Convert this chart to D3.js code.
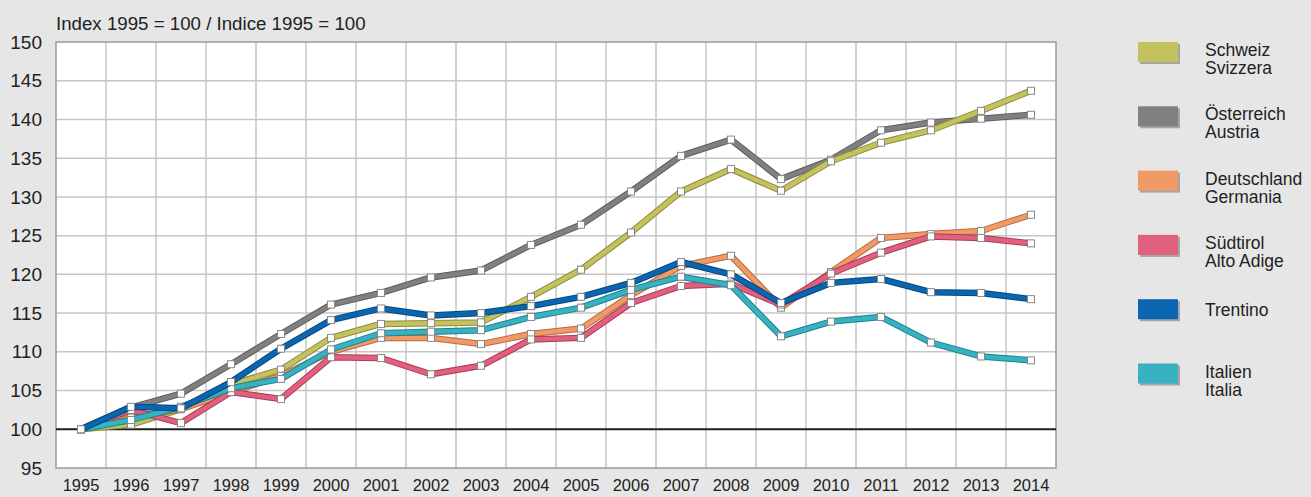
<!DOCTYPE html>
<html>
<head>
<meta charset="utf-8">
<script src="https://cdn.jsdelivr.net/npm/d3@7"></script>
<style>
  body { margin: 0; background: #e6e6e6; }
  svg { display: block; font-family: "Liberation Sans", Arial, sans-serif; }
</style>
</head>
<body>
<svg id="chart"></svg>
<script>
const years = [1995, 1996, 1997, 1998, 1999, 2000, 2001, 2002, 2003, 2004,
               2005, 2006, 2007, 2008, 2009, 2010, 2011, 2012, 2013, 2014];
const yTicks = [95, 100, 105, 110, 115, 120, 125, 130, 135, 140, 145, 150];

const schweiz     = [100, 100.6, 102.6, 105.8, 107.7, 111.8, 113.6, 113.7, 113.8, 117.1, 120.6, 125.4, 130.7, 133.6, 130.8, 134.6, 137.0, 138.6, 141.1, 143.7];
const oesterreich = [100, 102.8, 104.6, 108.4, 112.3, 116.1, 117.6, 119.6, 120.5, 123.8, 126.4, 130.7, 135.3, 137.4, 132.3, 134.8, 138.6, 139.6, 140.1, 140.6];
const deutschland = [100, 101.5, 102.6, 104.8, 106.9, 110.0, 111.8, 111.8, 111.0, 112.3, 113.0, 117.3, 121.1, 122.4, 115.7, 120.3, 124.7, 125.2, 125.6, 127.7];
const suedtirol   = [100, 102.5, 100.8, 104.8, 103.9, 109.3, 109.2, 107.1, 108.2, 111.6, 111.8, 116.3, 118.5, 118.8, 116.1, 120.1, 122.8, 124.9, 124.7, 124.0];
const trentino    = [100, 102.9, 102.7, 106.1, 110.4, 114.1, 115.6, 114.7, 115.0, 115.9, 117.1, 118.9, 121.6, 120.0, 116.3, 118.9, 119.4, 117.7, 117.6, 116.8];
const italien     = [100, 101.2, 102.9, 105.3, 106.5, 110.3, 112.4, 112.6, 112.8, 114.5, 115.7, 118.0, 119.7, 118.6, 112.0, 113.9, 114.5, 111.2, 109.4, 108.9];

const legendLabels = [
    ["Schweiz", "Svizzera"],
    ["Österreich", "Austria"],
    ["Deutschland", "Germania"],
    ["Südtirol", "Alto Adige"],
    ["Trentino"],
    ["Italien", "Italia"]
];

// legend order, with colours
const series = [
    {values: schweiz,     color: "#c4c25e", edge: "#8e8c3c"},
    {values: oesterreich, color: "#808080", edge: "#5e5e5e"},
    {values: deutschland, color: "#f09a66", edge: "#b86a40"},
    {values: suedtirol,   color: "#e0607e", edge: "#a83c58"},
    {values: trentino,    color: "#0a66b0", edge: "#07487c"},
    {values: italien,     color: "#36b2c2", edge: "#22808c"}
];
// drawing order (last on top)
const drawOrder = [1, 0, 2, 3, 5, 4];

const W = 1311, H = 497;
const svg = d3.select("#chart").attr("width", W).attr("height", H);

const x = d3.scaleBand().domain(years).range([56, 1056]);
const y = d3.scaleLinear().domain([95, 150]).range([468, 42]);
const cx = d => x(d) + x.bandwidth() / 2;

// plot background
svg.append("rect")
    .attr("x", 56).attr("y", 42)
    .attr("width", 1000).attr("height", 426)
    .attr("fill", "#ffffff");

// grid
svg.append("g").selectAll("line.v")
    .data(years.slice(1))
    .join("line")
    .attr("x1", d => x(d)).attr("x2", d => x(d))
    .attr("y1", 42).attr("y2", 468)
    .attr("stroke", "#c6c6c6").attr("stroke-width", 1.5);

svg.append("g").selectAll("line.h")
    .data(yTicks.filter(t => t > 95 && t < 150))
    .join("line")
    .attr("x1", 56).attr("x2", 1056)
    .attr("y1", d => y(d)).attr("y2", d => y(d))
    .attr("stroke", "#c6c6c6").attr("stroke-width", 1.5);

svg.append("rect")
    .attr("x", 56).attr("y", 42)
    .attr("width", 1000).attr("height", 426)
    .attr("fill", "none").attr("stroke", "#9a9a9a").attr("stroke-width", 1.5);

// base line at 100
svg.append("line")
    .attr("x1", 56).attr("x2", 1056)
    .attr("y1", y(100)).attr("y2", y(100))
    .attr("stroke", "#222").attr("stroke-width", 2);

// axes
const yAxis = svg.append("g")
    .attr("transform", "translate(42,0)")
    .call(d3.axisLeft(y).tickValues(yTicks).tickSize(0).tickPadding(0));
yAxis.select(".domain").remove();
yAxis.selectAll("text")
    .attr("font-size", 19).attr("fill", "#222")
    .attr("font-family", "Liberation Sans, Arial, sans-serif");

const xAxis = svg.append("g")
    .attr("transform", "translate(0,475)")
    .call(d3.axisBottom(x).tickSize(0).tickPadding(0));
xAxis.select(".domain").remove();
xAxis.selectAll("text")
    .attr("font-size", 16.5).attr("fill", "#222")
    .attr("dy", "0.95em")
    .attr("font-family", "Liberation Sans, Arial, sans-serif");

svg.append("text")
    .attr("x", 56).attr("y", 30)
    .attr("font-size", 18.7).attr("fill", "#222")
    .text("Index 1995 = 100 / Indice 1995 = 100");

// lines
const line = d3.line()
    .x((d, i) => cx(years[i]))
    .y(d => y(d));

for (let k = 0; k < drawOrder.length; k++) {
    const s = series[drawOrder[k]];
    const g = svg.append("g");
    g.append("path")
        .attr("d", line(s.values))
        .attr("fill", "none")
        .attr("stroke", s.edge)
        .attr("stroke-width", 6.5)
        .attr("stroke-linejoin", "round");
    g.append("path")
        .attr("d", line(s.values))
        .attr("fill", "none")
        .attr("stroke", s.color)
        .attr("stroke-width", 4.5)
        .attr("stroke-linejoin", "round");
    g.selectAll("rect")
        .data(s.values)
        .join("rect")
        .attr("x", (d, i) => cx(years[i]) - 3.5)
        .attr("y", d => y(d) - 3.5)
        .attr("width", 7).attr("height", 7)
        .attr("fill", "#fff")
        .attr("stroke", "#8a8a8a").attr("stroke-width", 1);
}

// legend
const legend = svg.append("g");
series.forEach((s, i) => {
    const top = 42 + i * 64.3;
    legend.append("rect")
        .attr("x", 1140).attr("y", top + 2)
        .attr("width", 40).attr("height", 20)
        .attr("fill", "#7a7a7a").attr("opacity", 0.6);
    legend.append("rect")
        .attr("x", 1138).attr("y", top)
        .attr("width", 40).attr("height", 20)
        .attr("fill", s.color);
    const lbl = legendLabels[i];
    const t = legend.append("text")
        .attr("font-size", 17.5).attr("fill", "#222");
    if (lbl.length === 1) {
        t.append("tspan").attr("x", 1205).attr("y", top + 17).text(lbl[0]);
    } else {
        t.append("tspan").attr("x", 1205).attr("y", top + 14).text(lbl[0]);
        t.append("tspan").attr("x", 1205).attr("y", top + 32).text(lbl[1]);
    }
});
</script>
</body>
</html>
